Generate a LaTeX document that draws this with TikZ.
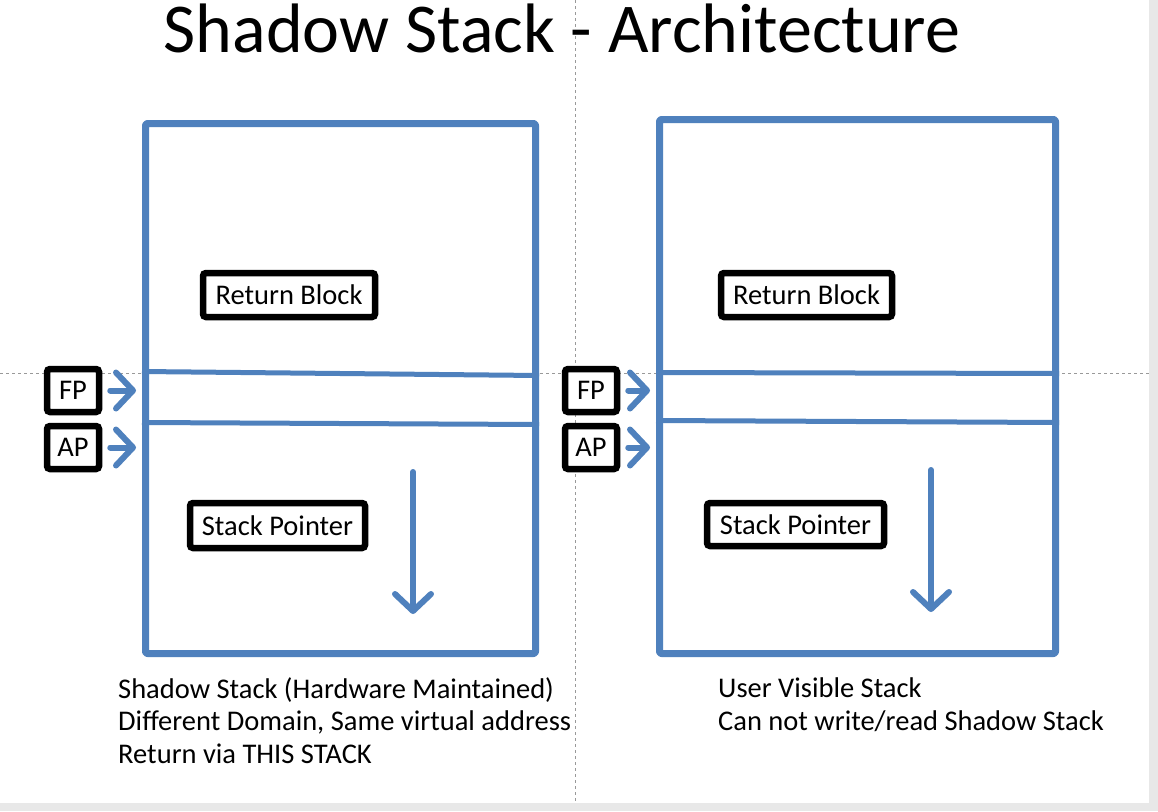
\documentclass[tikz,border=0pt]{standalone}
\usepackage{fontspec}
\setmainfont{Carlito}
\usetikzlibrary{arrows.meta,calc}
\definecolor{stackblue}{HTML}{4F81BD}
\begin{document}
\begin{tikzpicture}[x=1pt,y=-1pt,
  stackframe/.style={draw=stackblue,line width=7pt,rounded corners=2pt,line join=round},
  partline/.style={draw=stackblue,line width=5pt},
  labelbox/.style={draw=black,line width=6.5pt,rounded corners=3pt,fill=white,inner sep=0pt,
     font=\fontsize{28.5}{32}\selectfont},
  regbox/.style={labelbox,minimum width=52pt,minimum height=43pt},
  ptrarrow/.style={draw=stackblue,line width=6pt,line cap=round,
     -{Straight Barb[length=17pt,width=36pt,line cap=round,line join=round]}},
  guide/.style={draw=black!40,line width=0.8pt,dash pattern=on 3pt off 3pt},
  caption/.style={anchor=base west,inner sep=0pt,font=\fontsize{28.5}{32.5}\selectfont}]
\useasboundingbox (0,0) rectangle (1158,811);
\fill[black!9] (0,0) rectangle (1158,811);
\fill[white] (0,0) rectangle (1149,803);
% guides
\draw[guide] (575,0) -- (575,803);
\draw[guide] (0,373) -- (1149,373);
% title
\node[anchor=base,inner sep=0pt,font=\fontsize{70}{80}\selectfont] (title) at (562,52) {Shadow Stack - Architecture};
% left stack
\node[stackframe,minimum width=390pt,minimum height=530pt,inner sep=0pt] (stackL) at (340.5,388.5) {};
\draw[partline] ($(stackL.west)+(0,-17)$) -- ($(stackL.east)+(0,-13)$);
\draw[partline] ($(stackL.west)+(0,34)$) -- ($(stackL.east)+(0,36)$);
\node[labelbox,minimum width=172pt,minimum height=44pt] (retL) at (289,295) {Return Block};
\node[labelbox,minimum width=175pt,minimum height=45pt] (spL) at (277.5,525.5) {Stack Pointer};
\node[regbox] (fpL) at (73,390.5) {FP};
\node[regbox] (apL) at (73,447.5) {AP};
\draw[ptrarrow,shorten <=8pt,shorten >=6pt] (fpL.east) -- (fpL.east -| stackL.west);
\draw[ptrarrow,shorten <=8pt,shorten >=6pt] (apL.east) -- (apL.east -| stackL.west);
\coordinate (dnLa) at (413,472);
\coordinate (dnLb) at (413,614);
\draw[ptrarrow] (dnLa) -- (dnLb);
% right stack
\node[stackframe,minimum width=396pt,minimum height=534pt,inner sep=0pt] (stackR) at (857.5,386.5) {};
\draw[partline] ($(stackR.west)+(0,-14)$) -- ($(stackR.east)+(0,-13)$);
\draw[partline] ($(stackR.west)+(0,34)$) -- ($(stackR.east)+(0,36)$);
\node[labelbox,minimum width=171pt,minimum height=44pt] (retR) at (806.5,295) {Return Block};
\node[labelbox,minimum width=177pt,minimum height=43pt] (spR) at (795.5,524.5) {Stack Pointer};
\node[regbox] (fpR) at (591,390.5) {FP};
\node[regbox] (apR) at (591,447.5) {AP};
\draw[ptrarrow,shorten <=8pt,shorten >=6pt] (fpR.east) -- (fpR.east -| stackR.west);
\draw[ptrarrow,shorten <=8pt,shorten >=6pt] (apR.east) -- (apR.east -| stackR.west);
\coordinate (dnRa) at (931,470);
\coordinate (dnRb) at (931,612);
\draw[ptrarrow] (dnRa) -- (dnRb);
% captions
\node[caption] (capL1) at (118,698) {Shadow Stack (Hardware Maintained)};
\node[caption] (capL2) at (118,730.5) {Different Domain, Same virtual address};
\node[caption] (capL3) at (118,763) {Return via THIS STACK};
\node[caption] (capR1) at (718,697) {User Visible Stack};
\node[caption] (capR2) at (718,730) {Can not write/read Shadow Stack};
\end{tikzpicture}
\end{document}
